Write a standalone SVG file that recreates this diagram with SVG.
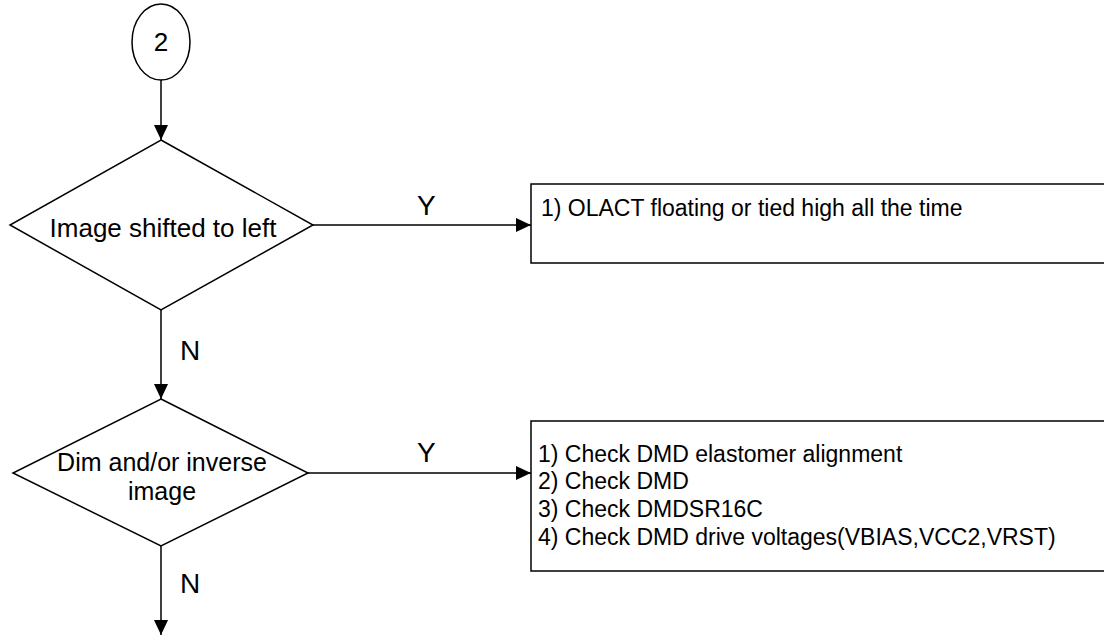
<svg xmlns="http://www.w3.org/2000/svg" width="1104" height="640" viewBox="0 0 1104 640">
<style>
.shape{fill:#fff;stroke:#000;stroke-width:1.5}
.line{fill:none;stroke:#000;stroke-width:1.5}
text{font-family:"Liberation Sans",Arial,sans-serif;fill:#000}
.dt{font-size:26px;text-anchor:middle}
.dt2{font-size:25px;text-anchor:middle}
.bt{font-size:23px}
.lbl{font-size:28px}
</style>
<defs>
<marker id="arr" markerWidth="15" markerHeight="14" refX="15" refY="7" orient="auto" markerUnits="userSpaceOnUse">
<path d="M0,0 L15,7 L0,14 Z" fill="#000"/>
</marker>
</defs>
<rect width="1104" height="640" fill="#fff"/>
<g id="connectors">
<line class="line" x1="161" y1="80" x2="161" y2="140" marker-end="url(#arr)"/>
<line class="line" x1="313" y1="225" x2="531" y2="225" marker-end="url(#arr)"/>
<line class="line" x1="161" y1="310" x2="161" y2="399" marker-end="url(#arr)"/>
<line class="line" x1="308" y1="473" x2="531" y2="473" marker-end="url(#arr)"/>
<line class="line" x1="161" y1="546" x2="161" y2="635" marker-end="url(#arr)"/>
<text class="lbl" x="417" y="215">Y</text>
<text class="lbl" x="180" y="360">N</text>
<text class="lbl" x="417" y="462">Y</text>
<text class="lbl" x="180" y="593">N</text>
</g>
<g id="start">
<ellipse class="shape" cx="161" cy="42" rx="29" ry="38"/>
<text class="dt" x="161" y="51">2</text>
</g>
<g id="decision1">
<polygon class="shape" points="161,140 313,225 161,310 10,225"/>
<text class="dt" x="163" y="237">Image shifted to left</text>
</g>
<g id="box1">
<rect class="shape" x="531" y="184" width="590" height="79"/>
<text class="bt" x="541" y="216">1) OLACT floating or tied high all the time</text>
</g>
<g id="decision2">
<polygon class="shape" points="161,399 308,473 161,546 13,473"/>
<text class="dt2" x="162" y="471">Dim and/or inverse</text>
<text class="dt2" x="162" y="500">image</text>
</g>
<g id="box2">
<rect class="shape" x="531" y="421" width="590" height="150"/>
<text class="bt" x="538" y="462">1) Check DMD elastomer alignment</text>
<text class="bt" x="538" y="489">2) Check DMD</text>
<text class="bt" x="538" y="517">3) Check DMDSR16C</text>
<text class="bt" x="538" y="545">4) Check DMD drive voltages(VBIAS,VCC2,VRST)</text>
</g>
</svg>
